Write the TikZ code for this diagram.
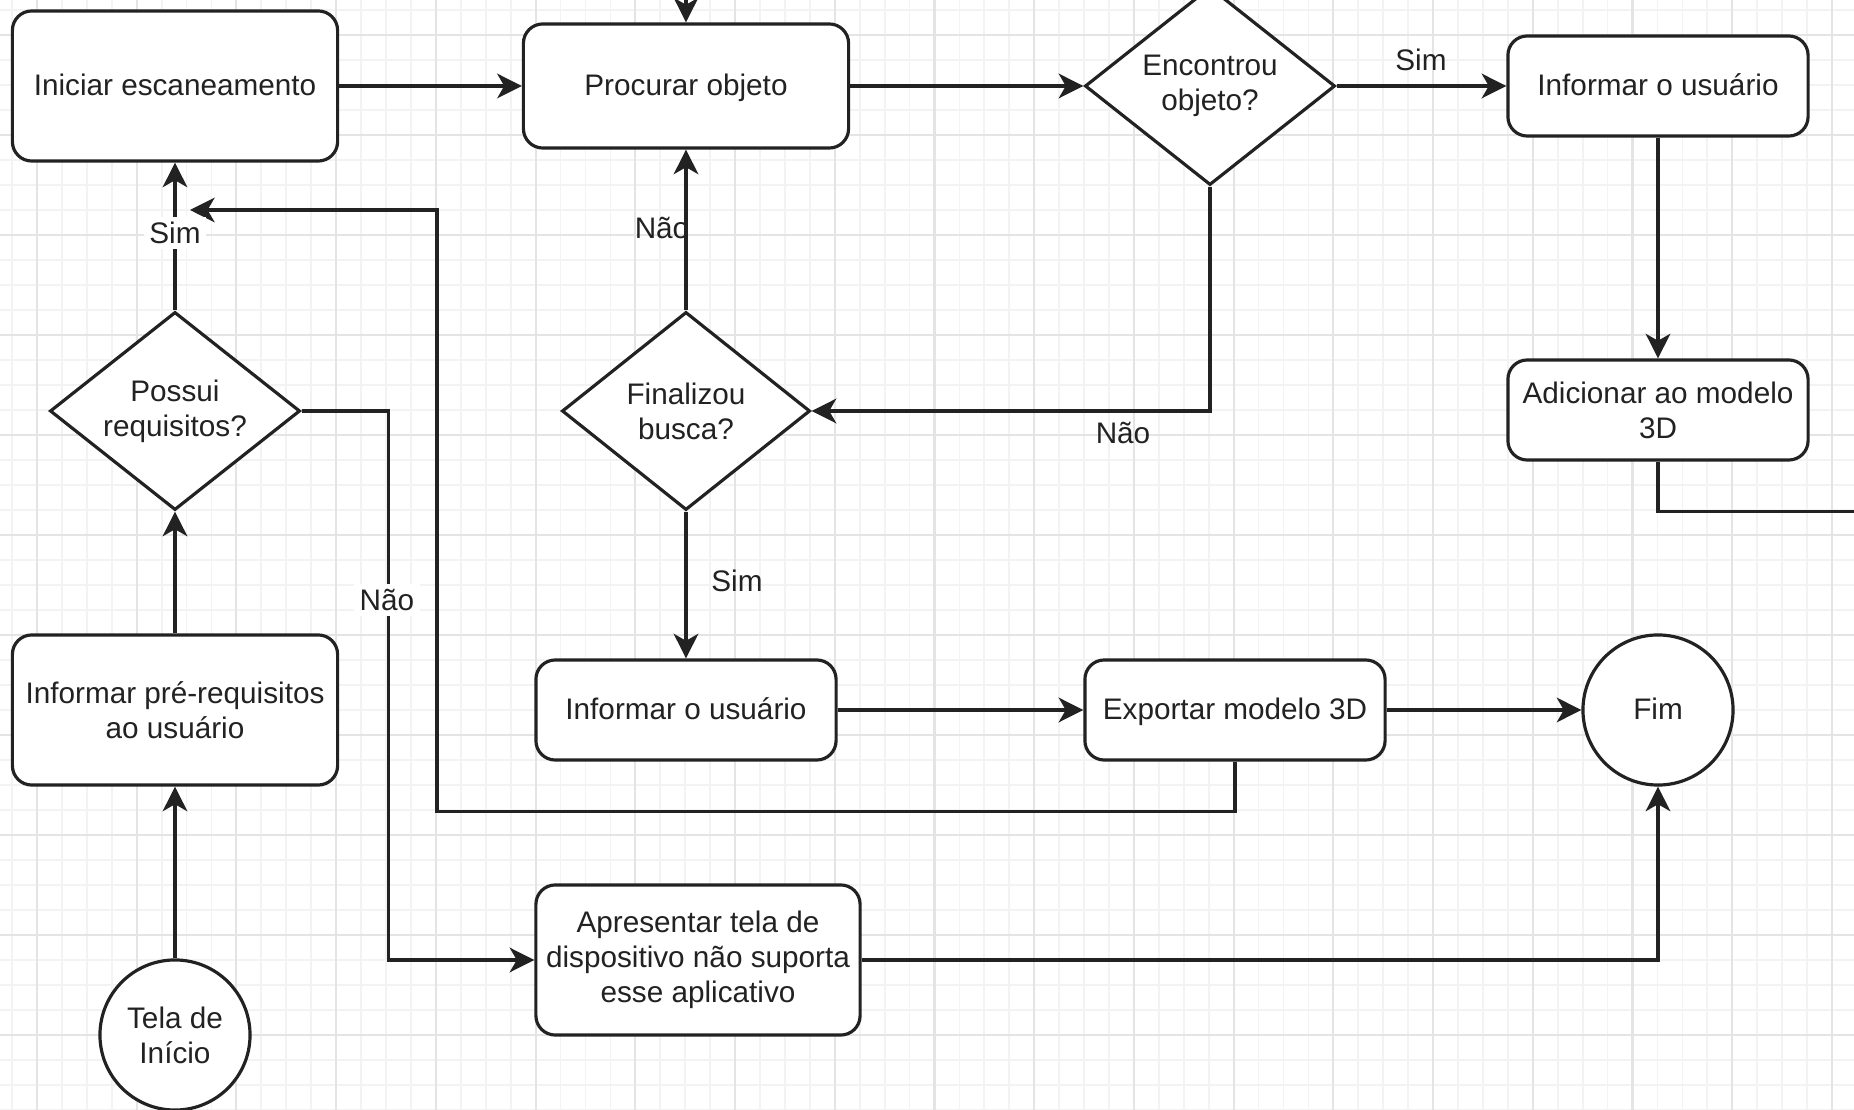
\documentclass[tikz,border=0pt]{standalone}
\usepackage{fontspec}
\setmainfont{Liberation Sans}
\usetikzlibrary{shapes.geometric,arrows.meta}
\definecolor{gridmajor}{HTML}{E4E4E4}
\definecolor{gridminor}{HTML}{F3F3F3}
\definecolor{ink}{HTML}{222222}
\newcommand{\dfont}{\fontsize{8.45pt}{10pt}\selectfont}
\tikzset{
  box/.style={draw=ink, line width=0.9pt, rounded corners=5.5pt, fill=white, align=center, inner sep=0pt, text=ink, font=\dfont},
  oneline/.style={text height=0.72em, text depth=0.2em},
  dec/.style={draw=ink, line width=0.9pt, diamond, aspect=1.26, fill=white, align=center, inner sep=0pt, minimum width=2.5cm, minimum height=1.98cm, text=ink, font=\dfont},
  term/.style={draw=ink, line width=0.9pt, circle, fill=white, align=center, inner sep=0pt, minimum size=1.5cm, text=ink, font=\dfont},
  conn/.style={draw=ink, line width=0.9pt, -{Stealth[length=7pt,width=7pt,inset=2pt]}},
  plainconn/.style={draw=ink, line width=0.9pt},
  lbl/.style={text=ink, font=\dfont, inner sep=1.5pt},
  gmin/.style={draw=gridminor, line width=0.5pt},
  gmaj/.style={draw=gridmajor, line width=0.6pt},
}
\begin{document}
\begin{tikzpicture}[x=0.01cm, y=-0.01cm]
\useasboundingbox (0,0) rectangle (1854,1110);
\clip (0,0) rectangle (1854,1110);
\fill[white] (0,0) rectangle (1854,1110);
% grid
\foreach \i in {-1,...,74} \draw[gmin] ({37+\i*24.93},0) -- ({37+\i*24.93},1110);
\foreach \j in {-1,...,44} \draw[gmin] (0,{35+\j*25}) -- (1854,{35+\j*25});
\foreach \k in {0,...,18} \draw[gmaj] ({37+\k*99.72},0) -- ({37+\k*99.72},1110);
\foreach \k in {0,...,10} \draw[gmaj] (0,{35+\k*100}) -- (1854,{35+\k*100});

% nodes
\node[box, oneline, minimum width=3.25cm, minimum height=1.5cm] (ini) at (175,86) {Iniciar escaneamento};
\node[box, oneline, minimum width=3.25cm, minimum height=1.24cm] (proc) at (686,86) {Procurar objeto};
\node[dec] (enc) at (1210,86) {Encontrou\\objeto?};
\node[box, oneline, minimum width=3cm, minimum height=1cm] (inf1) at (1658,86) {Informar o usuário};
\node[box, minimum width=3cm, minimum height=1cm] (adic) at (1658,410) {Adicionar ao modelo\\3D};
\node[dec] (possui) at (175,411) {Possui\\requisitos?};
\node[dec, minimum width=2.48cm] (fin) at (686,411) {Finalizou\\busca?};
\node[box, minimum width=3.25cm, minimum height=1.5cm] (infpre) at (175,710) {Informar pré-requisitos\\ao usuário};
\node[box, oneline, minimum width=3cm, minimum height=1cm] (inf2) at (686,710) {Informar o usuário};
\node[box, oneline, minimum width=3cm, minimum height=1cm] (exp) at (1235,710) {Exportar modelo 3D};
\node[term, oneline] (fim) at (1658,710) {Fim};
\node[box, minimum width=3.24cm, minimum height=1.5cm] (apres) at (698,960) {Apresentar tela de\\dispositivo não suporta\\esse aplicativo};
\node[term] (tela) at (175,1035) {Tela de\\Início};

\coordinate (topin) at (686,-30);
\coordinate (rightout) at (1880,510);
\coordinate (fbend) at (190,210);

% connectors
\draw[conn] (tela.north) -- (infpre.south);
\draw[conn] (infpre.north) -- (possui.south);
\draw[conn] (possui.north) -- (ini.south);
\draw[conn] (possui.east) -- ++(87,0) |- (apres.west);
\draw[conn] (ini.east) -- (proc.west);
\draw[conn] (proc.east) -- (enc.west);
\draw[conn] (enc.east) -- (inf1.west);
\draw[conn] (inf1.south) -- (adic.north);
\draw[plainconn] (adic.south) -- ++(0,50) -| (rightout);
\draw[conn] (topin) -- (proc.north);
\draw[conn] (enc.south) |- (fin.east);
\draw[conn] (fin.north) -- (proc.south);
\draw[conn] (fin.south) -- (inf2.north);
\draw[conn] (inf2.east) -- (exp.west);
\draw[conn] (exp.east) -- (fim.west);
\draw[conn] (exp.south) -- ++(0,50) -| (437,210) -- (fbend);
\draw[conn] (apres.east) -| (fim.south);

% labels
\node[lbl, fill=white] (lsim1) at (175,233) {Sim};
\node[lbl, fill=white] (lnao1) at (387,600) {Não};
\node[lbl] (lnao2) at (662,228) {Não};
\node[lbl] (lsim2) at (1421,60) {Sim};
\node[lbl] (lnao3) at (1123,433) {Não};
\node[lbl] (lsim3) at (737,581) {Sim};
\end{tikzpicture}
\end{document}
